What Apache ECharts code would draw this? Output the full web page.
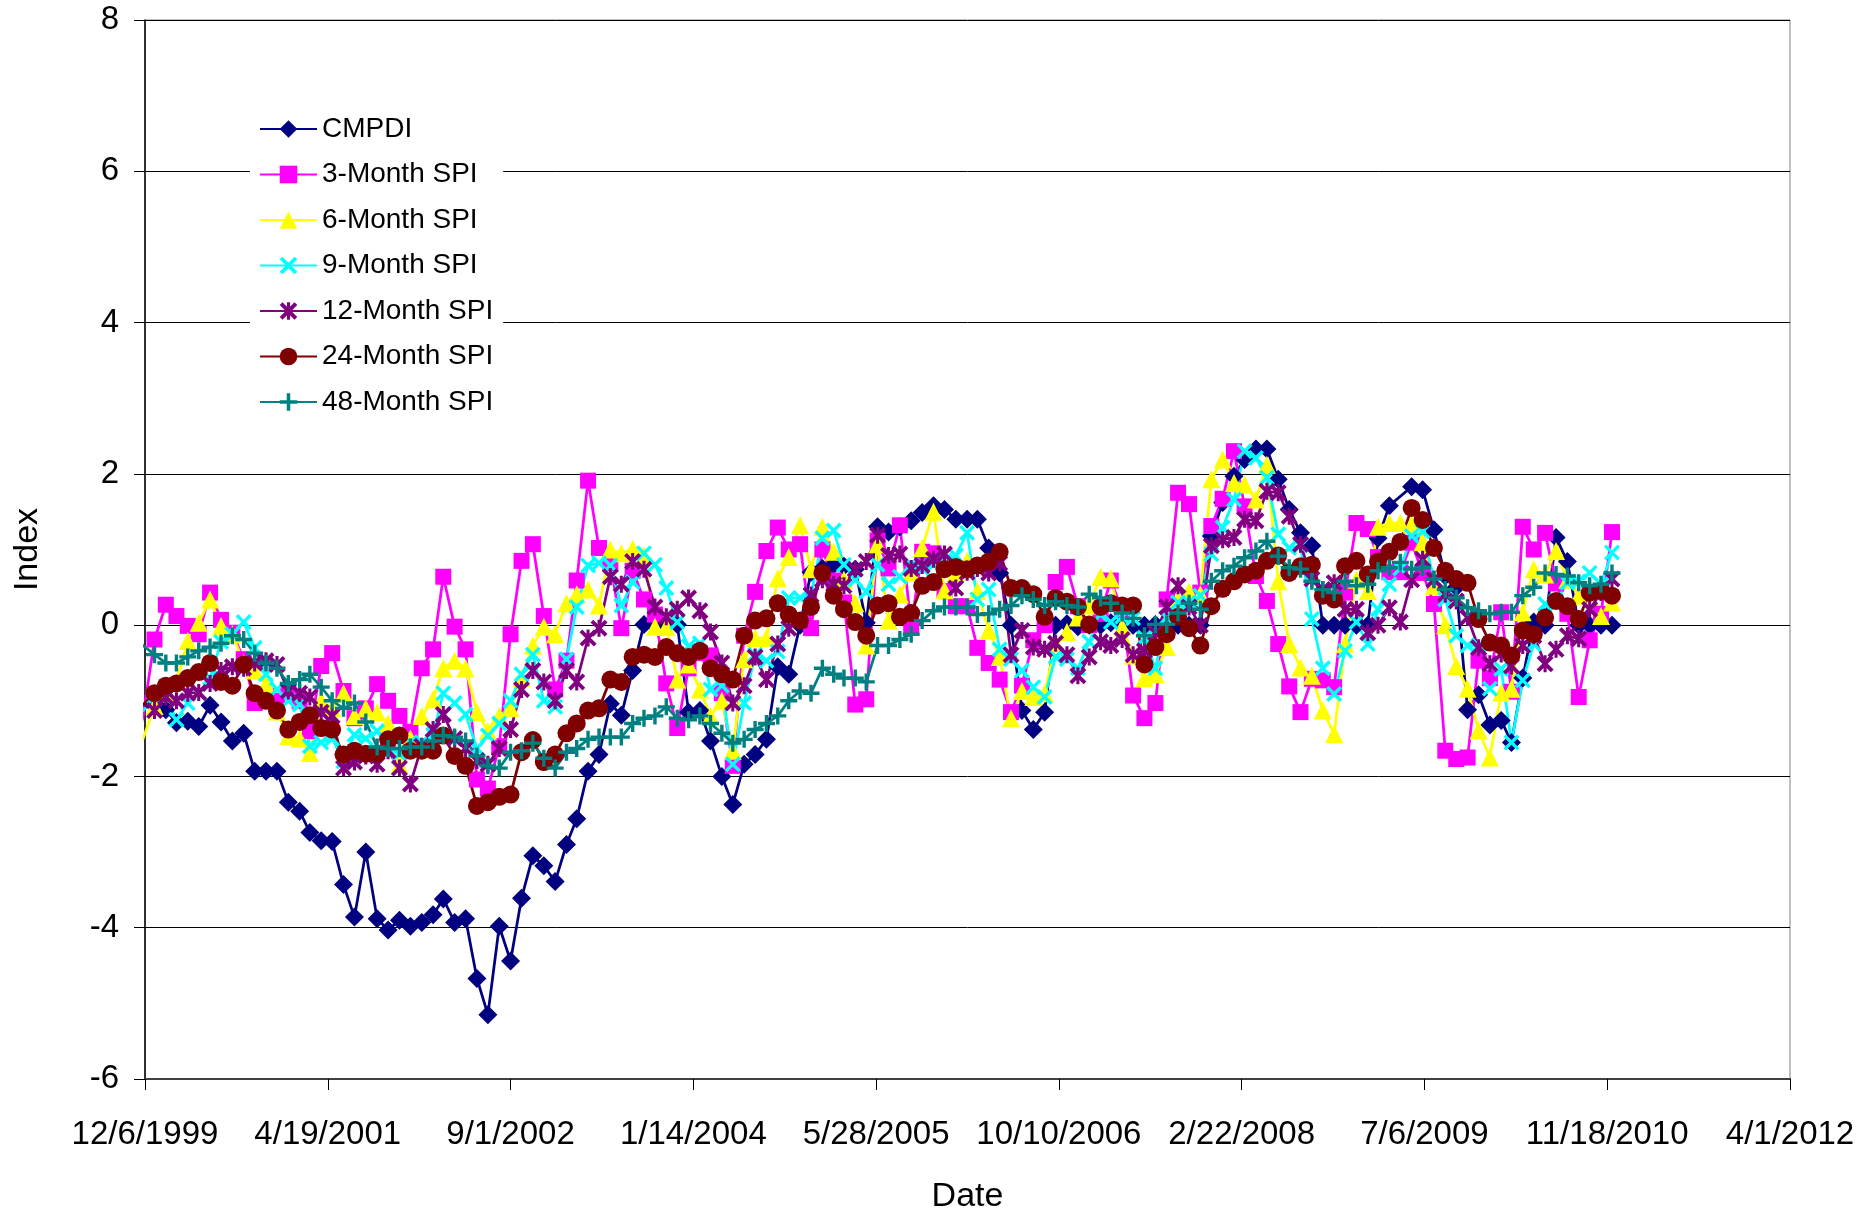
<!DOCTYPE html>
<html>
<head>
<meta charset="utf-8">
<script src="https://cdn.jsdelivr.net/npm/echarts@6/dist/echarts.min.js"></script>
<style>
html, body { margin: 0; padding: 0; background: #fff; }
#chart { width: 1866px; height: 1212px; }
</style>
</head>
<body>
<div id="chart"></div>
<script>
// monthly values, first point is Nov 1999, last is Dec 2010
var firstYear = 1999, firstMonth = 10, monthCount = 134;

var cmpdi = [-1.1, -1.1, -1.05, -1.12, -1.29, -1.27, -1.34, -1.06, -1.28, -1.53, -1.43,
  -1.93, -1.93, -1.93, -2.34, -2.46, -2.74, -2.85, -2.86, -3.43, -3.86,
  -3.00, -3.88, -4.03, -3.90, -3.98, -3.93, -3.83, -3.62, -3.93, -3.88,
  -4.67, -5.15, -3.98, -4.44, -3.61, -3.05, -3.18, -3.39, -2.90, -2.56,
  -1.93, -1.71, -1.04, -1.19, -0.60, 0.01, 0.0, 0.0, 0.01, -1.15,
  -1.13, -1.53, -2.00, -2.37, -1.84, -1.71, -1.51, -0.55, -0.65, 0.0,
  0.70, 0.75, 0.80, 0.78, 0.74, 0.03, 1.30, 1.23, 1.30, 1.38,
  1.49, 1.58, 1.53, 1.40, 1.40, 1.40, 1.02, 0.69, 0.0, -1.13,
  -1.38, -1.15, 0.0, 0.02, -0.02, 0.0, 0.0, 0.03, 0.0, 0.0,
  0.0, 0.01, 0.0, 0.0, 0.0, 0.0, 1.18, 1.62, 1.97, 2.19,
  2.33, 2.33, 1.93, 1.53, 1.22, 1.05, 0.0, 0.0, 0.0, 0.0,
  0.0, 1.15, 1.58, null, 1.83, 1.79, 1.26, 0.65, 0.5, -1.12,
  -0.92, -1.32, -1.26, -1.55, -0.70, 0.04, 0.0, 1.16, 0.84, 0.0,
  0.0, 0.0, 0.0];

var spi3 = [-1.75, -1.2, -0.19, 0.27, 0.12, -0.01, -0.12, 0.43, 0.07, -0.1, -0.45,
  -1.03, -0.94, -1.0, -0.87, -1.0, -1.4, -0.54, -0.37, -0.87, -1.23,
  -1.1, -0.78, -1.0, -1.2, -1.41, -0.57, -0.32, 0.64, -0.02, -0.32,
  -2.04, -2.16, -1.6, -0.12, 0.85, 1.07, 0.12, -0.85, -0.47, 0.59,
  1.91, 1.02, 0.82, -0.04, 0.72, 0.34, 0.14, -0.77, -1.36, -0.57,
  -0.37, -0.4, -0.9, -1.86, -0.14, 0.44, 0.98, 1.29, 1.0, 1.07,
  -0.04, 1.0, 0.59, 0.3, -1.05, -0.98, 1.12, 0.75, 1.32, 0.0,
  0.97, 0.95, 0.45, 0.25, 0.25, -0.3, -0.5, -0.72, -1.15, -0.8,
  -0.2, 0.0, 0.57, 0.77, 0.25, 0.0, 0.15, 0.59, 0.2, -0.93,
  -1.23, -1.03, 0.34, 1.75, 1.6, 0.43, 1.31, 1.67, 2.3, 1.57,
  0.65, 0.32, -0.25, -0.81, -1.15, -0.71, -0.73, -0.82, 0.43, 1.35,
  1.27, 0.9, 0.7, 0.7, 1.09, 0.69, 0.28, -1.66, -1.77, -1.75,
  -0.47, -0.7, 0.17, -0.88, 1.3, 1.0, 1.22, 0.55, 0.15, -0.95,
  -0.2, 0.15, 1.23];

var spi6 = [-1.55, -1.5, -1.07, -0.9, -0.75, -0.21, 0.03, 0.34, -0.01, -0.12, -0.5,
  -0.6, -0.78, -1.14, -1.47, -1.5, -1.69, -1.0, -1.1, -0.9, -1.2,
  -1.1, -1.15, -1.3, -1.84, -1.5, -1.2, -0.98, -0.57, -0.47, -0.57,
  -1.15, -1.4, -1.2, -1.1, -0.7, -0.27, -0.02, -0.12, 0.29, 0.41,
  0.47, 0.26, 1.0, 0.95, 1.01, 0.92, -0.02, -0.02, -0.72, -0.52,
  -0.85, -1.2, -1.0, -1.66, -0.45, -0.17, -0.17, 0.62, 0.9, 1.32,
  0.74, 1.3, 0.97, 0.6, 0.29, -0.27, 1.07, 0.06, 0.41, 0.7,
  1.02, 1.5, 0.46, 0.7, 0.85, 0.45, -0.07, -0.42, -1.23, -0.87,
  -0.95, -0.9, -0.24, -0.09, 0.1, 0.26, 0.64, 0.62, -0.02, -0.4,
  -0.7, -0.65, -0.29, 0.34, 0.44, 0.41, 1.93, 2.19, 1.88, 1.86,
  1.66, 2.12, 0.58, -0.25, -0.56, -0.67, -1.13, -1.44, -0.25, 0.6,
  0.45, 1.3, 1.35, 1.35, 1.33, 1.1, 0.52, 0.0, -0.54, -0.84,
  -1.39, -1.75, -0.89, -0.84, 0.17, 0.74, 0.67, 0.98, 0.6, 0.39,
  0.48, 0.12, 0.3];

var spi9 = [-1.1, -1.13, -0.95, -0.95, -1.25, -1.03, -0.9, -0.7, -0.22, -0.12, 0.04,
  -0.3, -0.65, -0.85, -1.0, -1.05, -1.6, -1.55, -1.5, -1.8, -1.45,
  -1.5, -1.4, -1.65, -1.7, -1.55, -1.55, -1.45, -0.9, -1.03, -1.18,
  -1.63, -1.46, -1.3, -1.0, -0.65, -0.39, -1.0, -1.08, -0.45, 0.24,
  0.79, 0.82, 0.79, 0.26, 0.57, 0.95, 0.8, 0.49, 0.04, -0.28,
  -0.24, -0.85, -0.8, -1.84, -1.03, -0.39, -0.47, -0.35, 0.36, 0.36,
  0.4, 1.15, 1.25, 0.8, 0.6, 0.44, 0.8, 0.54, 0.64, 0.8,
  0.75, 0.8, 0.85, 0.92, 1.22, 0.34, 0.47, -0.32, -0.45, -0.6,
  -0.82, -0.95, -0.42, -0.45, -0.57, -0.22, 0.14, 0.04, 0.11, 0.09,
  -0.17, -0.57, 0.1, 0.3, 0.3, 0.39, 0.94, 1.29, 1.66, 2.3,
  2.21, 1.95, 1.2, 1.02, 1.05, 0.08, -0.57, -0.91, -0.34, 0.04,
  -0.25, 0.21, 0.54, 0.75, 1.18, 1.24, 0.6, 0.34, -0.14, -0.27,
  -0.27, -0.84, -0.58, -1.55, -0.73, -0.25, 0.28, 0.32, 0.56, 0.58,
  0.69, 0.54, 0.96];

var spi12 = [-1.0, -1.05, -1.13, -0.95, -1.0, -0.9, -0.89, -0.77, -0.6, -0.55, -0.57,
  -0.5, -0.47, -0.52, -0.87, -0.9, -0.95, -1.15, -1.2, -1.89, -1.81,
  -1.73, -1.84, -1.66, -1.89, -2.1, -1.6, -1.38, -1.18, -1.5, -1.63,
  -1.79, -1.84, -1.63, -1.38, -0.85, -0.6, -0.75, -1.0, -0.6, -0.75,
  -0.17, -0.04, 0.64, 0.54, 0.84, 0.74, 0.24, 0.11, 0.21, 0.36,
  0.19, -0.09, -0.5, -1.03, -0.8, -0.42, -0.72, -0.25, -0.04, 0.06,
  0.4, 0.6, 0.54, 0.52, 0.74, 0.84, 1.19, 0.92, 0.94, 0.75,
  0.79, 0.87, 0.94, 0.49, 0.7, 0.75, 0.69, 0.82, -0.39, -0.07,
  -0.29, -0.32, -0.24, -0.39, -0.67, -0.42, -0.22, -0.27, -0.19, -0.39,
  -0.34, -0.1, 0.24, 0.52, 0.24, 0.0, 1.05, 1.13, 1.16, 1.4,
  1.38, 1.77, 1.75, 1.44, 1.07, 0.61, 0.47, 0.56, 0.21, 0.21,
  -0.1, 0.0, 0.23, 0.04, 0.6, 0.87, 0.6, 0.41, 0.32, 0.1,
  -0.3, -0.51, -0.38, -0.54, -0.27, -0.14, -0.51, -0.32, -0.14, -0.18,
  0.21, 0.43, 0.61];

var spi24 = [-1.1, -1.05, -0.9, -0.8, -0.77, -0.7, -0.62, -0.5, -0.75, -0.8, -0.52,
  -0.9, -1.0, -1.13, -1.38, -1.28, -1.19, -1.36, -1.38, -1.71, -1.66,
  -1.7, -1.7, -1.51, -1.46, -1.66, -1.66, -1.66, -1.46, -1.73, -1.86,
  -2.39, -2.34, -2.27, -2.24, -1.68, -1.52, -1.81, -1.71, -1.43, -1.3,
  -1.13, -1.1, -0.72, -0.75, -0.42, -0.39, -0.42, -0.29, -0.37, -0.42,
  -0.34, -0.57, -0.65, -0.72, -0.14, 0.06, 0.09, 0.29, 0.14, 0.06,
  0.24, 0.69, 0.39, 0.21, 0.04, -0.14, 0.26, 0.29, 0.11, 0.16,
  0.52, 0.57, 0.74, 0.77, 0.74, 0.79, 0.84, 0.97, 0.49, 0.49,
  0.41, 0.11, 0.36, 0.31, 0.24, 0.01, 0.24, 0.29, 0.26, 0.26,
  -0.52, -0.29, -0.12, 0.11, -0.04, -0.27, 0.25, 0.48, 0.58, 0.67,
  0.72, 0.85, 0.92, 0.69, 0.78, 0.8, 0.39, 0.34, 0.78, 0.85,
  0.67, 0.84, 0.97, 1.1, 1.55, 1.39, 1.02, 0.72, 0.61, 0.56,
  0.08, -0.23, -0.27, -0.4, -0.07, -0.12, 0.1, 0.32, 0.25, 0.08,
  0.43, 0.45, 0.39];

var spi48 = [-0.18, -0.27, -0.39, -0.5, -0.5, -0.42, -0.34, -0.29, -0.24, -0.14, -0.19,
  -0.37, -0.5, -0.57, -0.77, -0.72, -0.65, -0.82, -1.0, -1.1, -1.03,
  -1.28, -1.61, -1.63, -1.63, -1.61, -1.61, -1.53, -1.46, -1.48, -1.53,
  -1.73, -1.86, -1.89, -1.68, -1.66, -1.56, -1.76, -1.89, -1.68, -1.63,
  -1.51, -1.48, -1.48, -1.48, -1.3, -1.23, -1.2, -1.08, -1.23, -1.25,
  -1.2, -1.3, -1.43, -1.56, -1.51, -1.38, -1.3, -1.2, -1.0, -0.87,
  -0.9, -0.57, -0.65, -0.7, -0.7, -0.75, -0.27, -0.27, -0.19, -0.12,
  0.06, 0.19, 0.24, 0.24, 0.24, 0.14, 0.15, 0.21, 0.26, 0.39,
  0.34, 0.26, 0.31, 0.26, 0.24, 0.41, 0.36, 0.29, 0.16, 0.09,
  -0.14, 0.01, 0.01, 0.16, 0.29, 0.21, 0.58, 0.72, 0.78, 0.89,
  0.98, 1.11, 0.91, 0.76, 0.74, 0.58, 0.47, 0.43, 0.58, 0.52,
  0.54, 0.72, 0.76, 0.83, 0.74, 0.76, 0.61, 0.47, 0.36, 0.23,
  0.19, 0.15, 0.17, 0.17, 0.39, 0.5, 0.69, 0.67, 0.65, 0.56,
  0.52, 0.54, 0.69];

var seriesNames = ['CMPDI', '3-Month SPI', '6-Month SPI', '9-Month SPI', '12-Month SPI', '24-Month SPI', '48-Month SPI'];

// x axis is in excel date serials, 12/6/1999 .. 4/1/2012
var xMin = 36500, xMax = 41000, xStep = 500;
var excelEpoch = Date.UTC(1899, 11, 30);

var dates = [];
for (var i = 0; i < monthCount; i++) {
  dates.push((Date.UTC(firstYear, firstMonth + i, 1) - excelEpoch) / 86400000);
}

function serialLabel(v) {
  var d = new Date(excelEpoch + v * 86400000);
  return (d.getUTCMonth() + 1) + '/' + d.getUTCDate() + '/' + d.getUTCFullYear();
}

function pairs(vals) {
  return vals.map(function (v, i) { return [dates[i], v]; });
}

var xMark = 'path://M0,1.5L1.5,0L5,3.5L8.5,0L10,1.5L6.5,5L10,8.5L8.5,10L5,6.5L1.5,10L0,8.5L3.5,5Z';
var starMark = 'path://M0,1.6L1.6,0L5,3.4L8.4,0L10,1.6L6.6,5L10,8.4L8.4,10L5,6.6L1.6,10L0,8.4L3.4,5Z M4.1,0L5.9,0L5.9,10L4.1,10Z';
var plusMark = 'path://M4,0L6,0L6,4L10,4L10,6L6,6L6,10L4,10L4,6L0,6L0,4L4,4Z';

var font = 'Liberation Sans, Arial, sans-serif';

function mk(name, vals, color, symbol, size) {
  return {
    name: name,
    type: 'line',
    data: pairs(vals),
    symbol: symbol,
    symbolSize: size,
    showAllSymbol: true,
    connectNulls: true,
    clip: true,
    lineStyle: { color: color, width: 2.75 },
    itemStyle: { color: color },
    emphasis: { disabled: true }
  };
}

var chart = echarts.init(document.getElementById('chart'));
chart.setOption({
  animation: false,
  backgroundColor: '#fff',
  grid: {
    left: 145, right: 76, top: 20, bottom: 133,
    containLabel: false,
    outerBoundsMode: 'none',
    show: true,
    borderColor: '#808080',
    borderWidth: 1
  },
  legend: {
    orient: 'vertical',
    left: 250,
    top: 103,
    backgroundColor: '#fff',
    padding: [10, 10, 10, 9],
    itemWidth: 57,
    itemHeight: 22,
    itemGap: 13.5,
    textStyle: { fontSize: 28, lineHeight: 32, color: '#000', fontFamily: font },
    data: seriesNames
  },
  xAxis: {
    type: 'value',
    min: xMin,
    max: xMax,
    interval: xStep,
    name: 'Date',
    nameLocation: 'middle',
    nameGap: 101,
    nameTextStyle: { fontSize: 34, color: '#000', fontFamily: font },
    axisLine: { onZero: false, lineStyle: { color: '#404040', width: 2 } },
    axisTick: { show: true, length: 11, lineStyle: { color: '#000' } },
    axisLabel: { formatter: serialLabel, fontSize: 33, color: '#000', margin: 39, fontFamily: font },
    splitLine: { show: false }
  },
  yAxis: {
    type: 'value',
    min: -6,
    max: 8,
    interval: 2,
    name: 'Index',
    nameLocation: 'middle',
    nameGap: 100,
    nameRotate: 90,
    nameTextStyle: { fontSize: 34, color: '#000', fontFamily: font },
    axisLine: { show: true, lineStyle: { color: '#000', width: 1.5 } },
    axisTick: { show: true, length: 11, lineStyle: { color: '#000' } },
    axisLabel: { fontSize: 33, color: '#000', margin: 26, fontFamily: font },
    splitLine: { show: true, lineStyle: { color: '#000', width: 1 } }
  },
  series: [
    mk(seriesNames[0], cmpdi, '#000080', 'diamond', 19),
    mk(seriesNames[1], spi3, '#FF00FF', 'rect', 16),
    mk(seriesNames[2], spi6, '#FFFF00', 'triangle', 18),
    mk(seriesNames[3], spi9, '#00FFFF', xMark, 16),
    mk(seriesNames[4], spi12, '#800080', starMark, 17),
    mk(seriesNames[5], spi24, '#800000', 'circle', 18),
    mk(seriesNames[6], spi48, '#008080', plusMark, 17)
  ]
});
</script>
</body>
</html>
